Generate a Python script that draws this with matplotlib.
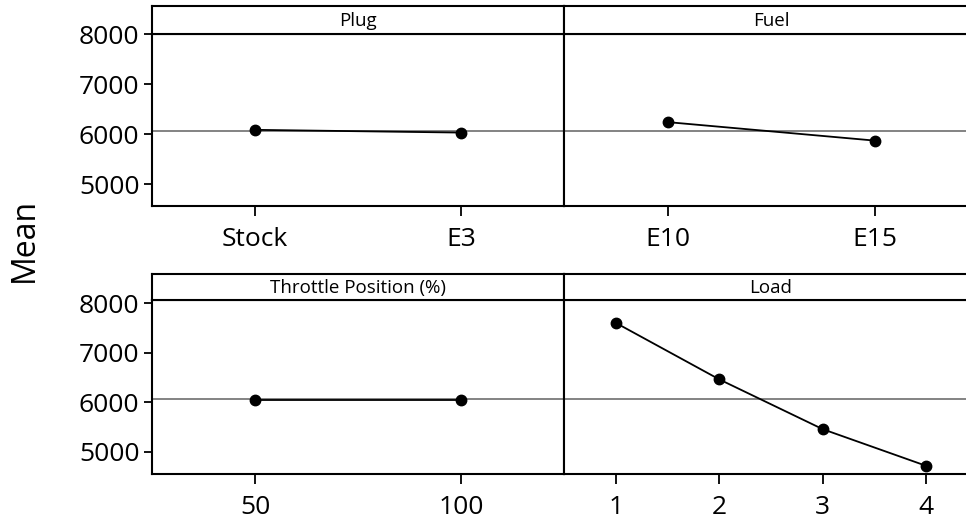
import matplotlib
matplotlib.use("Agg")
import matplotlib.pyplot as plt

plt.rcParams['font.family'] = ['Open Sans', 'DejaVu Sans']

# ---- data ----
plug_levels = ["Stock", "E3"]
plug_means = [6085, 6030]
fuel_levels = ["E10", "E15"]
fuel_means = [6240, 5870]
throttle_levels = ["50", "100"]
throttle_means = [6050, 6050]
load_levels = ["1", "2", "3", "4"]
load_means = [7605, 6465, 5460, 4720]
grand_mean = 6060
y_ticks = [5000, 6000, 7000, 8000]
titles = ["Plug", "Fuel", "Throttle Position (%)", "Load"]
y_label = "Mean"

W, H = 966, 520
fig = plt.figure(figsize=(W / 100, H / 100), dpi=100)

def px_axes(x0, x1, y0, y1):
    # y0 top pixel, y1 bottom pixel
    return fig.add_axes([x0 / W, 1 - y1 / H, (x1 - x0) / W, (y1 - y0) / H])

LW = 1.5
panels = [
    (plug_levels, plug_means, titles[0], 152, 564, 6, 33.7, 206, (4560, 8010), True),
    (fuel_levels, fuel_means, titles[1], 564, 978, 6, 33.7, 206, (4560, 8010), False),
    (throttle_levels, throttle_means, titles[2], 152, 564, 274, 300, 474, (4556, 8066), True),
    (load_levels, load_means, titles[3], 564, 978, 274, 300, 474, (4556, 8066), False),
]

for levels, means, title, x0, x1, ytop, ystrip, ybot, ylim, show_y in panels:
    ax = px_axes(x0, x1, ystrip, ybot)
    xs = list(range(1, len(levels) + 1))
    ax.axhline(grand_mean, color='#6e6e6e', lw=1.2, zorder=1)
    ax.plot(xs, means, color='black', lw=1.3, marker='o', ms=7.5, zorder=3)
    ax.set_xlim(0.5, len(levels) + 0.5)
    ax.set_ylim(*ylim)
    ax.set_xticks(xs)
    ax.set_xticklabels(levels)
    ax.set_yticks(y_ticks)
    for s in ax.spines.values():
        s.set_linewidth(LW)
        s.set_color('black')
    ax.tick_params(axis='x', direction='out', length=7, width=1.3, pad=8, labelsize=19)
    if show_y:
        ax.tick_params(axis='y', direction='out', length=6, width=1.3, pad=3, labelsize=19)
    else:
        ax.tick_params(axis='y', left=False, labelleft=False)
    sx = px_axes(x0, x1, ytop, ystrip)
    sx.set_xticks([])
    sx.set_yticks([])
    for s in sx.spines.values():
        s.set_linewidth(LW)
        s.set_color('black')
    sx.text(0.5, 0.45, title, transform=sx.transAxes, ha='center', va='center',
            fontsize=13.5)

fig.text(24 / W, 1 - 240 / H, y_label, rotation=90, ha='center', va='center', fontsize=23)

fig.savefig("out.png", dpi=100)
